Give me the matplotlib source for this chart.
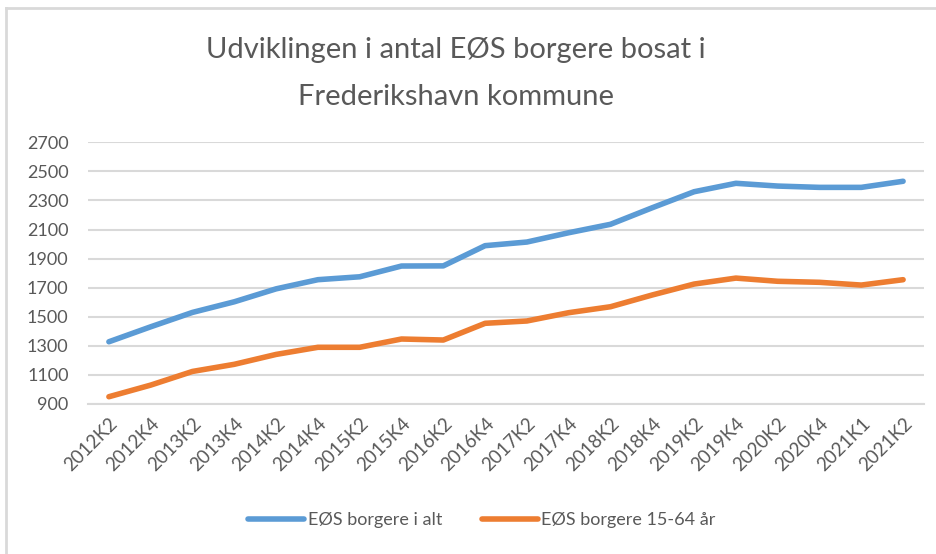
import numpy as np
import matplotlib.pyplot as plt
from matplotlib.lines import Line2D

plt.rcParams['font.family'] = ['Lato', 'DejaVu Sans']

# kvartaler
kvartaler = ['2012K2', '2012K4', '2013K2', '2013K4', '2014K2', '2014K4', '2015K2',
             '2015K4', '2016K2', '2016K4', '2017K2', '2017K4', '2018K2', '2018K4',
             '2019K2', '2019K4', '2020K2', '2020K4', '2021K1', '2021K2']

# EØS borgere i alt
i_alt = [1328, 1431, 1530, 1603, 1692, 1755, 1775, 1849, 1850, 1989,
         2014, 2078, 2136, 2250, 2360, 2418, 2399, 2390, 2390, 2432]

# EØS borgere 15-64 år
aar_15_64 = [950, 1030, 1124, 1173, 1241, 1290, 1290, 1347, 1340, 1455,
             1471, 1528, 1569, 1650, 1725, 1766, 1744, 1737, 1718, 1755]

blaa = '#5B9BD5'
orange = '#ED7D31'
tekst = '#595959'
gitter = '#D9D9D9'

fig = plt.figure(figsize=(9.37, 5.54), dpi=100)
ax = fig.add_axes([88/937, 1 - 404/554, (924 - 88)/937, (404 - 142.3)/554])

x = np.arange(len(kvartaler))
ax.plot(x, i_alt, color=blaa, lw=4, solid_capstyle='round', label='EØS borgere i alt')
ax.plot(x, aar_15_64, color=orange, lw=4, solid_capstyle='round', label='EØS borgere 15-64 år')

ax.set_xlim(-0.5, len(kvartaler) - 0.5)
ax.set_ylim(900, 2700)
ax.set_yticks(np.arange(900, 2701, 200))
ax.set_xticks(x)
ax.set_xticklabels(kvartaler, rotation=45, ha='right', va='top', rotation_mode='anchor')
ax.yaxis.grid(True, color=gitter, lw=1.5)
ax.set_axisbelow(True)
for s in ['top', 'right', 'left']:
    ax.spines[s].set_visible(False)
ax.spines['bottom'].set_color(gitter)
ax.spines['bottom'].set_linewidth(1.5)
ax.tick_params(axis='both', length=0, labelsize=13, colors=tekst)
ax.tick_params(axis='x', labelsize=13.5, pad=8)
ax.tick_params(axis='y', pad=14)

fig.text(456/937, 1 - 50/554, 'Udviklingen i antal EØS borgere bosat i',
         ha='center', va='center', fontsize=21, color=tekst)
fig.text(456/937, 1 - 97/554, 'Frederikshavn kommune',
         ha='center', va='center', fontsize=21, color=tekst)

fig.legend(loc='center', bbox_to_anchor=(482/937, 1 - 520/554), ncol=2, frameon=False,
           fontsize=13, handlelength=3.1, handletextpad=0.2, columnspacing=2.2,
           labelcolor=tekst)

# ramme (kun top og venstre synlig)
fig.add_artist(Line2D([6/937, 6/937], [0, 1 - 8/554], color='#D9D9D9', lw=2,
                      transform=fig.transFigure))
fig.add_artist(Line2D([6/937, 1], [1 - 8/554, 1 - 8/554], color='#D9D9D9', lw=2,
                      transform=fig.transFigure))

fig.savefig('out.png', dpi=100)
